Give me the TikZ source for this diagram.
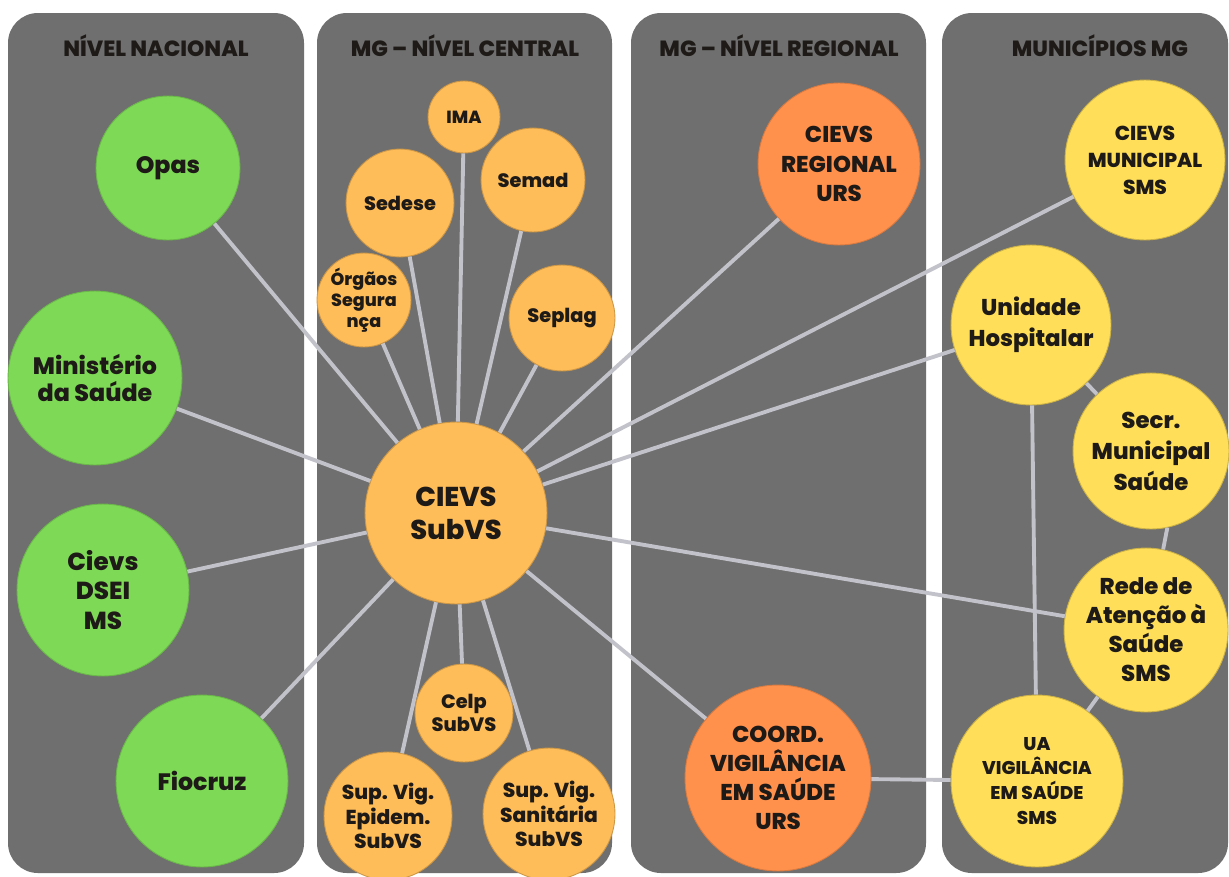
\documentclass[tikz,border=0pt]{standalone}
\usepackage{fontspec}
\setmainfont{Poppins}[BoldFont={Poppins ExtraBold}]
\usepackage{tikz}

\definecolor{painel}{HTML}{6F6F6F}
\definecolor{verde}{HTML}{7ED957}
\definecolor{laranja}{HTML}{FFBD59}
\definecolor{laranjaf}{HTML}{FF914D}
\definecolor{amarelo}{HTML}{FFDE59}
\definecolor{linha}{HTML}{C2C2CA}
\definecolor{texto}{HTML}{1E1A17}

\newcommand{\fz}[2]{\fontsize{#1}{#2}\selectfont\bfseries}

\begin{document}
\begin{tikzpicture}[x=0.02cm, y=-0.02cm,
    bola/.style={circle, align=center, inner sep=0pt, text=texto, line width=0.5pt},
    nac/.style={bola, fill=verde, draw=verde!85!black, minimum size=#1*0.04cm},
    cen/.style={bola, fill=laranja, draw=laranja!80!black, minimum size=#1*0.04cm},
    reg/.style={bola, fill=laranjaf, draw=laranjaf!85!black, minimum size=#1*0.04cm},
    mun/.style={bola, fill=amarelo, draw=amarelo!80!black, minimum size=#1*0.04cm},
    tit/.style={text=texto, font=\fontsize{12.5}{14}\selectfont\bfseries},
    lig/.style={draw=linha, line width=2.2pt}]
						\clip (0,0) rectangle (1229,876);
						\fill[white] (0,0) rectangle (1229,876);
						% painéis
						\fill[painel, rounded corners=0.6cm] (8,13) rectangle (304,873);
						\fill[painel, rounded corners=0.6cm] (317,13) rectangle (612,873);
						\fill[painel, rounded corners=0.6cm] (631,13) rectangle (926,873);
						\fill[painel, rounded corners=0.6cm] (942,13) rectangle (1228,873);
						\node[tit] (t1) at (156,46) {NÍVEL NACIONAL};
						\node[tit] (t2) at (465,46) {MG -- NÍVEL CENTRAL};
						\node[tit] (t3) at (779,46) {MG -- NÍVEL REGIONAL};
						\node[tit] (t4) at (1100,46) {MUNICÍPIOS MG};
						% nível nacional
						\node[nac=72, font=\fz{13.5}{16}] (opas) at (168,168) {Opas};
						\node[nac=87, font=\fz{13.5}{15.4}] (ms) at (95,378) {Ministério\\da Saúde};
						\node[nac=86, font=\fz{14}{17}] (dsei) at (103,590) {Cievs\\DSEI\\MS};
						\node[nac=86, font=\fz{13.5}{16}] (fio) at (202,781) {Fiocruz};
						% nível central
						\node[cen=91, font=\fz{15.5}{18.8}] (sub) at (456,513) {CIEVS\\SubVS};
						\node[cen=36, font=\fz{10}{12}] (ima) at (464,117) {IMA};
						\node[cen=52, font=\fz{11}{13}] (semad) at (533,180) {Semad};
						\node[cen=54, font=\fz{11}{13}] (sedese) at (400,203) {Sedese};
						\node[cen=47, font=\fz{10}{12}] (org) at (364,300) {Órgãos\\Segura\\nça};
						\node[cen=53, font=\fz{11}{13}] (seplag) at (562,318) {Seplag};
						\node[cen=49, font=\fz{11}{13}] (celp) at (464,713) {Celp\\SubVS};
						\node[cen=64, font=\fz{11.5}{14}] (epi) at (388,816) {Sup. Vig.\\Epidem.\\SubVS};
						\node[cen=66, font=\fz{11.5}{14}] (san) at (549,814) {Sup. Vig.\\Sanitária\\SubVS};
						% nível regional
						\node[reg=81, font=\fz{13}{16.8}] (creg) at (839,164) {CIEVS\\REGIONAL\\URS};
						\node[reg=93, font=\fz{13}{16.5}] (coord) at (778,778) {COORD.\\VIGILÂNCIA\\EM SAÚDE\\URS};
						% municípios
						\node[mun=80, font=\fz{11.5}{15.4}] (cmun) at (1145,160) {CIEVS\\MUNICIPAL\\SMS};
						\node[mun=80, font=\fz{13}{17.6}] (hosp) at (1031,325) {Unidade\\Hospitalar};
						\node[mun=78, font=\fz{13}{17.6}] (secr) at (1151,451) {Secr.\\Municipal\\Saúde};
						\node[mun=82, font=\fz{13}{16.5}] (rede) at (1146,630) {Rede de\\Atenção à\\Saúde\\SMS};
						\node[mun=86, font=\fz{10.5}{14.2}] (ua) at (1037,781) {UA\\VIGILÂNCIA\\EM SAÚDE\\SMS};
						% ligações
						\draw[lig] (sub) -- (opas);
						\draw[lig] (sub) -- (ms);
						\draw[lig] (sub) -- (dsei);
						\draw[lig] (sub) -- (fio);
						\draw[lig] (sub) -- (ima);
						\draw[lig] (sub) -- (semad);
						\draw[lig] (sub) -- (sedese);
						\draw[lig] (sub) -- (org);
						\draw[lig] (sub) -- (seplag);
						\draw[lig] (sub) -- (celp);
						\draw[lig] (sub) -- (epi);
						\draw[lig] (sub) -- (san);
						\draw[lig] (sub) -- (creg);
						\draw[lig] (sub) -- (coord);
						\draw[lig] (sub) -- (cmun);
						\draw[lig] (sub) -- (hosp);
						\draw[lig] (sub) -- (rede);
						\draw[lig] (coord) -- (ua);
						\draw[lig] (hosp) -- (secr);
						\draw[lig] (hosp) -- (ua);
						\draw[lig] (secr.-78) -- (rede.78);
						\draw[lig] (rede) -- (ua);
				\end{tikzpicture}
\end{document}
